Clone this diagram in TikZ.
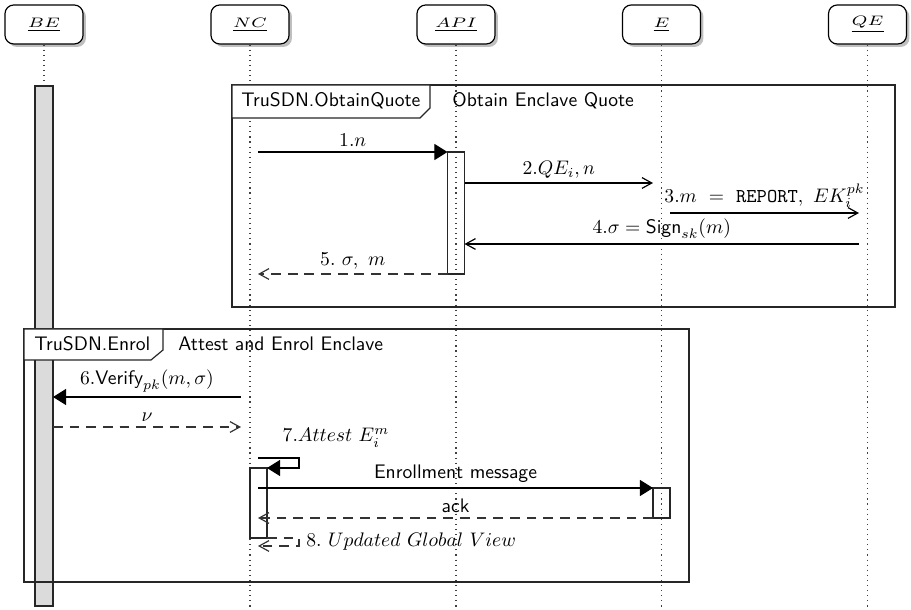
\documentclass[tikz,border=0pt]{standalone}
\usepackage{graphicx}
\usetikzlibrary{arrows.meta,shadows,calc}
\begin{document}
\begin{tikzpicture}[x=0.51pt,y=-0.51pt, font=\sffamily,
  inst/.style={draw, line width=0.6pt, rounded corners=4.5pt, fill=white,
    minimum width=39.8pt, minimum height=19.9pt,
    drop shadow={shadow xshift=1.5pt, shadow yshift=-1.5pt, fill=black!50}},
  life/.style={dotted, line width=0.6pt, black!75},
  actbox/.style={draw, line width=0.6pt, black!85},
  msg/.style={line width=0.6pt},
  sync/.style={msg, -{Triangle[length=6.7pt,width=8.2pt]}},
  async/.style={msg, -{Straight Barb[length=5pt,width=5.5pt]}},
  ret/.style={async, dash pattern=on 5pt off 3.5pt, black!80},
  framebox/.style={draw, line width=0.6pt, black!85},
  tabbox/.style={draw, line width=0.6pt, black!85, fill=white},
  lbl/.style={inner sep=2.3pt}
]
\useasboundingbox (0,0) rectangle (911,610);

% instances
\node[inst] (BE)  at (44,24.5)    {\scalebox{1.3}[1]{\scriptsize$\underline{BE}$}};
\node[inst] (NC)  at (250,24.5)   {\scalebox{1.3}[1]{\scriptsize$\underline{NC}$}};
\node[inst] (API) at (456,24.5)   {\scalebox{1.3}[1]{\scriptsize$\underline{API}$}};
\node[inst] (E)   at (661.5,24.5) {\scalebox{1.3}[1]{\scriptsize$\underline{E}$}};
\node[inst] (QE)  at (867.5,24.5) {\scalebox{1.3}[1]{\scriptsize$\underline{QE}$}};

% lifelines
\foreach \n in {BE,NC,API,E,QE}
  \draw[life] (\n.south) -- (\n.south |- 0,610);

% BE activation
\draw[actbox, fill=black!14] (35,86) rectangle (53,606);

% frame 1
\draw[framebox] (232,85) rectangle (895,307);
\draw[tabbox] (232,85) -- (430,85) -- (430,108) -- (420,118) -- (232,118) -- cycle;
\node[anchor=base west, inner sep=0pt] (t1) at (241,107) {TruSDN.ObtainQuote};
\node[anchor=base west, inner sep=0pt] (t1b) at (452,107) {Obtain Enclave Quote};

% frame 2
\draw[framebox] (24,329) rectangle (689,582);
\draw[tabbox] (24,329) -- (163,329) -- (163,350) -- (151,360) -- (24,360) -- cycle;
\node[anchor=base west, inner sep=0pt] (t2) at (34,351) {TruSDN.Enrol};
\node[anchor=base west, inner sep=0pt] (t2b) at (178,351) {Attest and Enrol Enclave};

% activations
\draw[actbox] (447.5,152) rectangle (464.5,274);
\draw[actbox] (653,488) rectangle (670,518);
\draw[actbox] (250,468) rectangle (267,538);

% message end points
\coordinate (a1) at (258,152);   \coordinate (b1) at (447.5,152);
\coordinate (a2) at (464.5,183); \coordinate (b2) at (653,183);
\coordinate (a3) at (670,213);   \coordinate (b3) at (859,213);
\coordinate (a4) at (859,244);   \coordinate (b4) at (464.5,244);
\coordinate (a5) at (447.5,274); \coordinate (b5) at (258,274);
\coordinate (a6) at (241,397);   \coordinate (b6) at (53,397);
\coordinate (a7) at (53,427);    \coordinate (b7) at (241,427);
\coordinate (s1) at (258,458);   \coordinate (s2) at (299,468); \coordinate (s3) at (267,468);
\coordinate (a8) at (258,488);   \coordinate (b8) at (653,488);
\coordinate (a9) at (653,518);   \coordinate (b9) at (258,518);
\coordinate (r1) at (267,538);   \coordinate (r2) at (299,546); \coordinate (r3) at (258,546);

% messages
\draw[sync] (a1) -- node[above, lbl] (l1) {$1.n$} (b1);
\draw[async] (a2) -- node[above, lbl] (l2) {$2.QE_i, n$} (b2);
\draw[async] (a3) -- node[above, lbl] (l3) {$3.m\ =\ \texttt{REPORT},\ EK_i^{pk}$} (b3);
\draw[async] (a4) -- node[above, lbl] (l4) {$4.\sigma = \textsf{Sign}_{sk}(m)$} (b4);
\draw[ret] (a5) -- node[above, lbl, black] (l5) {$5.\ \sigma,\ m$} (b5);
\draw[sync] (a6) -- node[above, lbl] (l6) {$6.\textsf{Verify}_{pk}(m,\sigma)$} (b6);
\draw[ret] (a7) -- node[above, lbl, black] (l7) {$\nu$} (b7);
\node[anchor=base, inner sep=0pt] (l8) at (336,442) {$7.Attest\ E_i^m$};
\draw[sync] (s1) -| (s2) -- (s3);
\draw[sync] (a8) -- node[above, lbl] (l9) {Enrollment message} (b8);
\draw[ret] (a9) -- node[above, lbl, black] (l10) {ack} (b9);
\draw[ret] (r1) -| (r2) -- (r3);
\node[anchor=base west, inner sep=0pt] (l11) at (306,547) {$8.\ Updated\ Global\ View$};
\end{tikzpicture}
\end{document}
